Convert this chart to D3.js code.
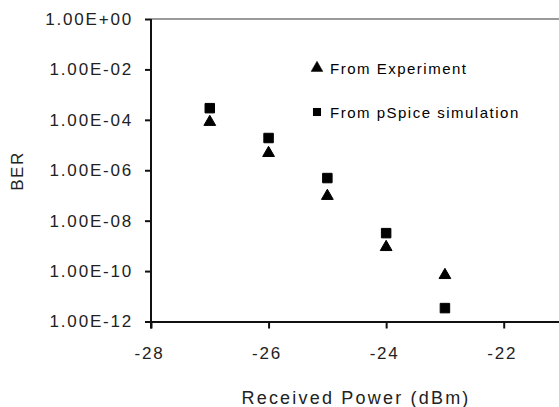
<!DOCTYPE html>
<html>
<head>
<meta charset="UTF-8">
<title>BER vs received power</title>
<script src="https://d3js.org/d3.v7.min.js"></script>
<style>
html, body { margin: 0; padding: 0; background: #fff; }
svg { display: block; font-family: "Liberation Sans", Arial, sans-serif; }
.tick text { fill: #222; }
</style>
</head>
<body>
<script>
// received power (dBm) and BER
var power = [-27, -26, -25, -24, -23];
var berExperiment = [8.2e-5, 4.8e-6, 9.5e-8, 8.9e-10, 6.9e-11];
var berSimulation = [2.9e-4, 1.9e-5, 4.9e-7, 3.2e-9, 3.4e-12];

var xTicks = [-28, -26, -24, -22];
var yTicks = [1e0, 1e-2, 1e-4, 1e-6, 1e-8, 1e-10, 1e-12];
var yTickLabels = ["1.00E+00", "1.00E-02", "1.00E-04", "1.00E-06", "1.00E-08", "1.00E-10", "1.00E-12"];
var legendLabels = ["From Experiment", "From pSpice simulation"];

var width = 559, height = 407;
var mLeft = 151, mRight = 562.5, mTop = 19, mBottom = 321.5;

var svg = d3.select("body").append("svg")
    .attr("width", width)
    .attr("height", height);

var x = d3.scaleLinear().domain([-28, -21]).range([mLeft, mRight]);
var y = d3.scaleLog().domain([1e-12, 1]).range([mBottom, mTop]);

// top gridline at 1.00E+00
svg.append("line")
    .attr("x1", mLeft).attr("x2", mRight)
    .attr("y1", y(1)).attr("y2", y(1))
    .attr("stroke", "#9a9a9a")
    .attr("stroke-width", 2);

var yAxis = svg.append("g")
    .attr("transform", "translate(" + mLeft + ",0)")
    .call(d3.axisLeft(y)
        .tickValues(yTicks)
        .tickFormat(function (d, i) { return yTickLabels[i]; })
        .tickSizeInner(6).tickSizeOuter(0).tickPadding(12));

var xAxis = svg.append("g")
    .attr("transform", "translate(0," + mBottom + ")")
    .call(d3.axisBottom(x)
        .tickValues(xTicks)
        .tickFormat(function (d) { return String(d); })
        .tickSizeInner(7).tickSizeOuter(0).tickPadding(18));

[yAxis, xAxis].forEach(function (g) {
    g.select(".domain").attr("stroke", "#111").attr("stroke-width", 2);
    g.selectAll(".tick line").attr("stroke", "#111").attr("stroke-width", 2);
    g.selectAll(".tick text")
        .attr("font-size", 17)
        .attr("letter-spacing", 1.8)
        .attr("font-family", "Liberation Sans, Arial, sans-serif");
});
xAxis.selectAll(".tick text").attr("dx", -2);
// y axis line continues down past the x axis
yAxis.select(".domain").attr("d", "M0," + mTop + "V" + (mBottom + 7));

// axis titles
svg.append("text")
    .attr("x", 356).attr("y", 404)
    .attr("text-anchor", "middle")
    .attr("font-size", 18)
    .attr("letter-spacing", 2.2)
    .attr("fill", "#222")
    .text("Received Power (dBm)");

svg.append("text")
    .attr("transform", "translate(23,171) rotate(-90)")
    .attr("text-anchor", "middle")
    .attr("font-size", 17)
    .attr("letter-spacing", 1.5)
    .attr("fill", "#222")
    .text("BER");

var tri = d3.symbol().type(d3.symbolTriangle).size(60);
var sq = d3.symbol().type(d3.symbolSquare).size(90);

var pts = svg.append("g");
pts.selectAll(".sim")
    .data(power)
    .enter().append("path")
    .attr("class", "sim")
    .attr("d", sq)
    .attr("fill", "#000")
    .attr("stroke", "#000")
    .attr("stroke-linejoin", "round")
    .attr("stroke-width", 1)
    .attr("transform", function (d, i) {
        return "translate(" + x(d) + "," + y(berSimulation[i]) + ")";
    });

pts.selectAll(".exp")
    .data(power)
    .enter().append("path")
    .attr("class", "exp")
    .attr("d", tri)
    .attr("fill", "#000")
    .attr("stroke", "#000")
    .attr("stroke-width", 1)
    .attr("transform", function (d, i) {
        return "translate(" + x(d) + "," + y(berExperiment[i]) + ")";
    });

// legend
var legend = svg.append("g");
var legendSym = [tri, sq];
legendLabels.forEach(function (label, i) {
    var ly = 68 + i * 44;
    legend.append("path")
        .attr("d", legendSym[i])
        .attr("fill", "#000")
        .attr("stroke", "#000")
        .attr("stroke-width", i === 0 ? 0.5 : 0)
        .attr("transform", "translate(" + 317 + "," + ly + ")" + (i === 1 ? " scale(0.85)" : ""));
    legend.append("text")
        .attr("x", 330).attr("y", ly + 6)
        .attr("font-size", 15)
        .attr("letter-spacing", 1.5)
        .attr("fill", "#000")
        .text(label);
});
</script>
</body>
</html>
